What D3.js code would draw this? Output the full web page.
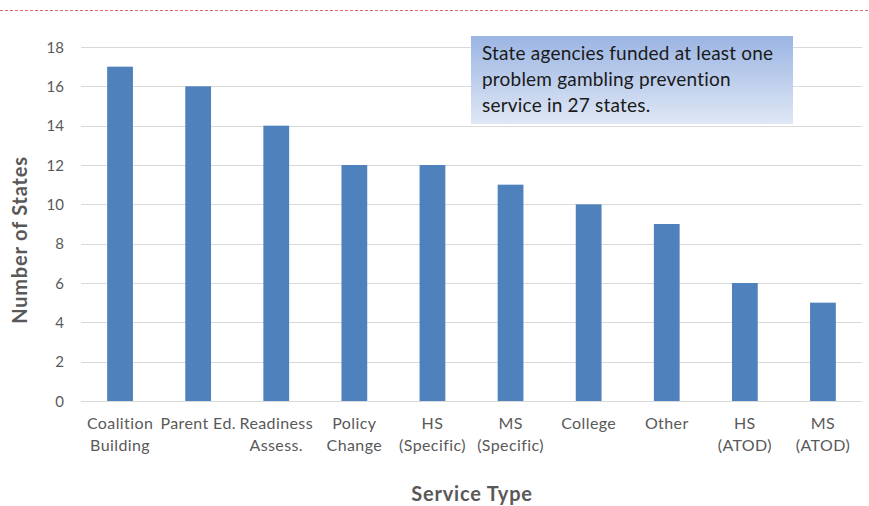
<!DOCTYPE html>
<html>
<head>
<meta charset="utf-8">
<script src="https://cdn.jsdelivr.net/npm/d3@7"></script>
<style>
  html, body { margin: 0; padding: 0; background: #fff; }
  svg { display: block; }
  text { font-family: "Lato", "Open Sans", sans-serif; }
</style>
</head>
<body>
<svg id="chart" width="869" height="506"></svg>
<script>
// Service types (two-line labels) and number of states funding each
const categories = [
  ["Coalition", "Building"],
  ["Parent Ed."],
  ["Readiness", "Assess."],
  ["Policy", "Change"],
  ["HS", "(Specific)"],
  ["MS", "(Specific)"],
  ["College"],
  ["Other"],
  ["HS", "(ATOD)"],
  ["MS", "(ATOD)"]
];
const values = [17, 16, 14, 12, 12, 11, 10, 9, 6, 5];
const yTicks = [0, 2, 4, 6, 8, 10, 12, 14, 16, 18];
const noteLines = [
  "State agencies funded at least one",
  "problem gambling prevention",
  "service in 27 states."
];

const svg = d3.select("#chart");
const W = 869, H = 506;
const margin = { top: 47, right: 7, bottom: 105, left: 81 };

const x = d3.scaleBand()
  .domain(d3.range(categories.length))
  .range([margin.left, W - margin.right])
  .paddingInner(0.67)
  .paddingOuter(0.335);

const y = d3.scaleLinear()
  .domain([0, 18])
  .range([H - margin.bottom, margin.top]);

// dashed rule across the top
svg.append("line")
  .attr("x1", 0).attr("x2", W)
  .attr("y1", 10.5).attr("y2", 10.5)
  .attr("stroke", "#e06b6b")
  .attr("stroke-width", 1.2)
  .attr("stroke-dasharray", "3,2");

// gridlines
svg.append("g")
  .selectAll("line")
  .data(yTicks)
  .join("line")
  .attr("x1", margin.left).attr("x2", W - margin.right)
  .attr("y1", d => Math.round(y(d)) + 0.5)
  .attr("y2", d => Math.round(y(d)) + 0.5)
  .attr("stroke", "#d9d9d9")
  .attr("stroke-width", 1);

// y axis labels
const yAxis = d3.axisLeft(y).tickValues(yTicks).tickSize(0).tickPadding(0);
const gy = svg.append("g")
  .attr("transform", `translate(${margin.left - 17},0)`)
  .call(yAxis);
gy.select(".domain").remove();
gy.selectAll("text")
  .attr("fill", "#595959")
  .attr("font-size", 15)
  .attr("dy", "0.35em");

// bars
svg.append("g")
  .selectAll("rect")
  .data(values)
  .join("rect")
  .attr("x", (d, i) => x(i))
  .attr("width", x.bandwidth())
  .attr("y", d => y(d))
  .attr("height", d => y(0) - y(d))
  .attr("fill", "#4f81bd");

// category labels
const xAxis = d3.axisBottom(x).tickSize(0).tickFormat(() => "");
const gx = svg.append("g")
  .attr("transform", `translate(0,${y(0)})`)
  .call(xAxis);
gx.select(".domain").remove();
gx.selectAll(".tick").each(function (i) {
  const t = d3.select(this).append("text")
    .attr("fill", "#595959")
    .attr("font-size", 16)
    .attr("letter-spacing", 0.4)
    .attr("text-anchor", "middle");
  categories[i].forEach((line, k) => {
    t.append("tspan").attr("x", 0).attr("y", 28 + k * 22).text(line);
  });
});

// axis titles
svg.append("text")
  .attr("x", 472).attr("y", 501)
  .attr("text-anchor", "middle")
  .attr("font-size", 20)
  .attr("font-weight", "bold")
  .attr("letter-spacing", 0.8)
  .attr("fill", "#595959")
  .text("Service Type");

svg.append("text")
  .attr("transform", `translate(27,${(y(0) + y(18)) / 2 + 16}) rotate(-90)`)
  .attr("text-anchor", "middle")
  .attr("font-size", 20)
  .attr("font-weight", "bold")
  .attr("letter-spacing", 0.8)
  .attr("fill", "#595959")
  .text("Number of States");

// note box
const defs = svg.append("defs");
const grad = defs.append("linearGradient")
  .attr("id", "noteFill")
  .attr("x1", 0).attr("y1", 0).attr("x2", 0).attr("y2", 1);
grad.append("stop").attr("offset", "0%").attr("stop-color", "#9bb5e3");
grad.append("stop").attr("offset", "100%").attr("stop-color", "#dfe7f5");

const note = svg.append("g").attr("transform", "translate(471,36)");
note.append("rect")
  .attr("width", 322).attr("height", 88)
  .attr("fill", "url(#noteFill)");
note.append("text")
  .attr("font-size", 19)
  .attr("letter-spacing", 0.2)
  .attr("fill", "#1a1a1a")
  .selectAll("tspan")
  .data(noteLines)
  .join("tspan")
  .attr("x", 11)
  .attr("y", (d, i) => 24 + i * 26)
  .text(d => d);
</script>
</body>
</html>
